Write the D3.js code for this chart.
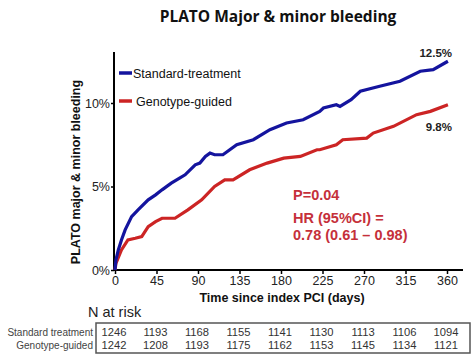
<!DOCTYPE html>
<html><head><meta charset="utf-8">
<script src="https://cdn.jsdelivr.net/npm/d3@7"></script>
<style>html,body{margin:0;padding:0;background:#fff;}svg{display:block;}</style>
</head><body>
<svg id="c" width="474" height="359"></svg>
<script>
const days = [0,45,90,135,180,225,270,315,360];
const yTicks = [0,5,10];
const stdDays = [0,1,3.6,7,11,18,25,36,44,51,61,70,76,87,92,98,103,108,117,132,150,168,186,204,222,226,240,244,256,266,287,309,331,345,361];
const stdPct  = [0,0.6,1.2,1.8,2.4,3.2,3.6,4.2,4.5,4.8,5.2,5.5,5.7,6.3,6.4,6.8,7.0,6.9,6.9,7.5,7.8,8.4,8.8,9.0,9.5,9.7,9.9,9.8,10.2,10.7,11.0,11.3,11.9,12.0,12.5];
const gdDays = [0,1,4,7,14,22,29,36,44,51,65,79,94,108,119,128,146,165,183,201,219,222,240,247,273,280,302,327,342,361];
const gdPct  = [0,0.4,0.8,1.2,1.8,1.9,2.0,2.6,2.9,3.1,3.1,3.6,4.2,5.0,5.4,5.4,6.0,6.4,6.7,6.8,7.2,7.2,7.5,7.8,7.9,8.2,8.6,9.3,9.5,9.9];
const riskStd = [1246,1193,1168,1155,1141,1130,1113,1106,1094];
const riskGd  = [1242,1208,1193,1175,1162,1153,1145,1134,1121];
const blue = "#14149e", red = "#cc2424", annRed = "#c5303a";

const svg = d3.select("#c");
const x = d3.scaleLinear().domain([0,360]).range([115,447]);
const y = d3.scaleLinear().domain([0,10]).range([270,103]);
const AR = "'Liberation Sans', Arial, sans-serif";

svg.append("text").attr("x",278).attr("y",22).attr("text-anchor","middle")
  .attr("font-family","'Open Sans', sans-serif").attr("font-weight","bold").attr("font-size",15.5)
  .attr("fill","#111").text("PLATO Major & minor bleeding");

// axes
const xAxis = svg.append("g").attr("transform","translate(0,270)")
  .call(d3.axisBottom(x).tickValues(days).tickSize(4).tickSizeOuter(0).tickPadding(2));
xAxis.select(".domain").attr("d","M114,0H463").attr("stroke","#000").attr("stroke-width",2);
xAxis.selectAll(".tick line").attr("stroke-width",1.5);
xAxis.selectAll("text").attr("font-family",AR).attr("font-size",12.5).attr("fill","#222");

const yAxis = svg.append("g").attr("transform","translate(114,0)")
  .call(d3.axisLeft(y).tickValues(yTicks).tickFormat(d=>d+"%").tickSize(3).tickSizeOuter(0).tickPadding(1));
yAxis.select(".domain").attr("d","M0,52V271").attr("stroke","#000").attr("stroke-width",2);
yAxis.selectAll(".tick line").attr("stroke-width",1.5);
yAxis.selectAll("text").attr("font-family",AR).attr("font-size",12.5).attr("fill","#222");

svg.append("text").attr("transform","translate(80,172) rotate(-90)").attr("text-anchor","middle")
  .attr("font-family",AR).attr("font-weight","bold").attr("font-size",12.5).attr("fill","#111")
  .text("PLATO major & minor bleeding");
svg.append("text").attr("x",282).attr("y",302).attr("text-anchor","middle")
  .attr("font-family",AR).attr("font-weight","bold").attr("font-size",12.5).attr("fill","#111")
  .text("Time since index PCI (days)");

// curves
const line = d3.line().x(d=>x(d[0])).y(d=>y(d[1])).curve(d3.curveLinear);
svg.append("path").datum(gdDays.map((d,i)=>[d,gdPct[i]])).attr("d",line)
  .attr("fill","none").attr("stroke",red).attr("stroke-width",3.2);
svg.append("path").datum(stdDays.map((d,i)=>[d,stdPct[i]])).attr("d",line)
  .attr("fill","none").attr("stroke",blue).attr("stroke-width",3.2);

// legend
const leg = [["Standard-treatment",blue,73,133],["Genotype-guided",red,101,136]];
leg.forEach(l=>{
  svg.append("line").attr("x1",119).attr("x2",132).attr("y1",l[2]).attr("y2",l[2])
    .attr("stroke",l[1]).attr("stroke-width",3.5);
  svg.append("text").attr("x",l[3]).attr("y",l[2]+4.5).attr("font-family",AR).attr("font-size",12.5)
    .attr("fill","#111").text(l[0]);
});

// end labels
svg.append("text").attr("x",452).attr("y",57).attr("text-anchor","end").attr("font-family",AR)
  .attr("font-weight","bold").attr("font-size",11.5).attr("fill","#222").text("12.5%");
svg.append("text").attr("x",452).attr("y",131).attr("text-anchor","end").attr("font-family",AR)
  .attr("font-weight","bold").attr("font-size",11.5).attr("fill","#222").text("9.8%");

// stats
[["P=0.04",200],["HR (95%CI) =",223],["0.78 (0.61 \u2013 0.98)",240]].forEach(s=>{
  svg.append("text").attr("x",293).attr("y",s[1]).attr("font-family",AR).attr("font-weight","bold")
    .attr("font-size",14.5).attr("fill",annRed).text(s[0]);
});

// risk table
svg.append("text").attr("x",88).attr("y",317).attr("font-family",AR).attr("font-size",14.5)
  .attr("fill","#222").text("N at risk");
svg.append("rect").attr("x",96).attr("y",323).attr("width",374).attr("height",30)
  .attr("fill","none").attr("stroke","#555").attr("stroke-width",1.5);
[["Standard treatment",riskStd,336],["Genotype-guided",riskGd,349]].forEach(r=>{
  svg.append("text").attr("x",93).attr("y",r[2]-0.5).attr("text-anchor","end").attr("font-family",AR)
    .attr("font-size",10).attr("fill","#444").text(r[0]);
  svg.selectAll(null).data(r[1]).enter().append("text")
    .attr("x",(d,i)=>x(days[i])-1).attr("y",r[2]).attr("text-anchor","middle")
    .attr("font-family",AR).attr("font-size",11.2).attr("fill","#333").text(d=>d);
});
</script>
</body></html>
